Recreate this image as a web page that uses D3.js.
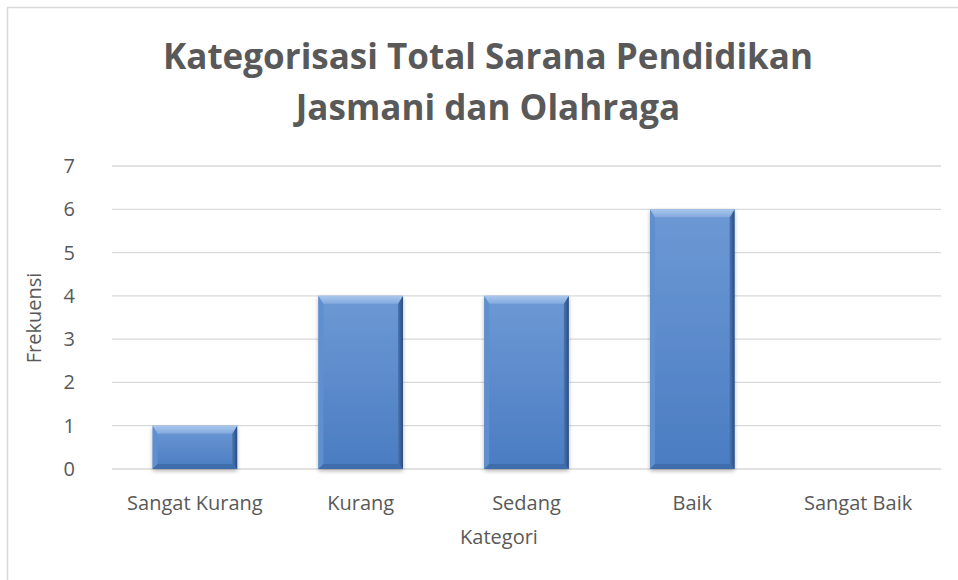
<!DOCTYPE html>
<html>
<head>
<meta charset="utf-8">
<script src="https://cdn.jsdelivr.net/npm/d3@7"></script>
<style>
  body { margin: 0; background: #fff; }
  text { font-family: "Open Sans", "DejaVu Sans", sans-serif; fill: #595959; }
</style>
</head>
<body>
<svg id="chart" width="958" height="580"></svg>
<script>
// data
var categories = ['Sangat Kurang', 'Kurang', 'Sedang', 'Baik', 'Sangat Baik'];
var frekuensi = [1, 4, 4, 6, 0];
var yTicks = [0, 1, 2, 3, 4, 5, 6, 7];
var titleLines = ['Kategorisasi Total Sarana Pendidikan', 'Jasmani dan Olahraga'];

var svg = d3.select('#chart');
var margin = {left: 112, right: 17, top: 166, bottom: 111};
var W = 958, H = 580;

// outer border of the chart area
svg.append('rect').attr('x', 7.5).attr('y', 7.5).attr('width', W + 10).attr('height', H + 10)
   .attr('fill', '#fff').attr('stroke', '#d9d9d9').attr('stroke-width', 1.5);

var x = d3.scaleBand().domain(categories).range([margin.left, W - margin.right]).paddingInner(0.49).paddingOuter(0.245);
var y = d3.scaleLinear().domain([0, 7]).range([H - margin.bottom, margin.top]);

// grid lines
svg.append('g').selectAll('line').data(yTicks).enter().append('line')
   .attr('x1', margin.left).attr('x2', W - margin.right)
   .attr('y1', function(d){ return y(d); }).attr('y2', function(d){ return y(d); })
   .attr('stroke', '#d9d9d9').attr('stroke-width', 1.3);

// y axis labels
svg.append('g').selectAll('text').data(yTicks).enter().append('text')
   .attr('x', 75).attr('y', function(d){ return y(d) + 7; })
   .attr('text-anchor', 'end').style('font-size', '20px')
   .text(function(d){ return d; });

// x axis labels
svg.append('g').selectAll('text').data(categories).enter().append('text')
   .attr('x', function(d){ return x(d) + x.bandwidth()/2; })
   .attr('y', 510).attr('text-anchor', 'middle').style('font-size', '20px')
   .text(function(d){ return d; });

// axis titles
svg.append('text').attr('x', 499).attr('y', 544).attr('text-anchor', 'middle')
   .style('font-size', '20px').text('Kategori');
svg.append('text').attr('transform', 'translate(41,318) rotate(-90)').attr('text-anchor', 'middle')
   .style('font-size', '20px').text('Frekuensi');

// title
var titleW = [644, 388];
svg.append('g').selectAll('text').data(titleLines).enter().append('text')
   .attr('x', 488).attr('y', function(d, i){ return 69 + i * 51; })
   .attr('text-anchor', 'middle').style('font-size', '35px').style('font-weight', 'bold')
   .text(function(d){ return d; })
   .each(function(d, i){
     var len = this.getComputedTextLength();
     if (Math.abs(len - titleW[i]) > 6) d3.select(this).attr('textLength', titleW[i]).attr('lengthAdjust', 'spacingAndGlyphs');
   });

// gradients for bevelled bars
var defs = svg.append('defs');
var g1 = defs.append('linearGradient').attr('id', 'barFill').attr('x1', 0).attr('y1', 0).attr('x2', 0).attr('y2', 1);
g1.append('stop').attr('offset', '0%').attr('stop-color', '#6d99d5');
g1.append('stop').attr('offset', '100%').attr('stop-color', '#4a7cc2');
var gTop = defs.append('linearGradient').attr('id', 'topBev').attr('x1', 0).attr('y1', 0).attr('x2', 0).attr('y2', 1);
gTop.append('stop').attr('offset', '0%').attr('stop-color', '#a9c7ec');
gTop.append('stop').attr('offset', '100%').attr('stop-color', '#82a9de');
var gRight = defs.append('linearGradient').attr('id', 'rightBev').attr('x1', 0).attr('y1', 0).attr('x2', 1).attr('y2', 0);
gRight.append('stop').attr('offset', '0%').attr('stop-color', '#4a76b4');
gRight.append('stop').attr('offset', '100%').attr('stop-color', '#2a4d80');
var sh = defs.append('filter').attr('id', 'shadow').attr('x', '-10%').attr('y', '-10%').attr('width', '130%').attr('height', '130%');
sh.append('feGaussianBlur').attr('in', 'SourceAlpha').attr('stdDeviation', 2);
sh.append('feOffset').attr('dx', 0).attr('dy', 2).attr('result', 'ob');
sh.append('feComponentTransfer').append('feFuncA').attr('type', 'linear').attr('slope', 0.3);
var mg = sh.append('feMerge');
mg.append('feMergeNode');
mg.append('feMergeNode').attr('in', 'SourceGraphic');

var bev = 8;
var bars = svg.append('g').selectAll('g').data(frekuensi.map(function(v, i){ return {c: categories[i], v: v}; }))
   .enter().filter(function(d){ return d.v > 0; }).append('g');

bars.each(function(d){
  var g = d3.select(this);
  var x0 = x(d.c), x1 = x0 + x.bandwidth(), y0 = y(d.v), y1 = y(0);
  var b = Math.min(bev, (y1 - y0) / 2);
  var bs = 5;
  g.append('rect').attr('x', x0).attr('y', y0).attr('width', x1 - x0).attr('height', y1 - y0)
   .attr('fill', 'url(#barFill)').attr('filter', 'url(#shadow)');
  var pts = function(a){ return a.map(function(p){ return p.join(','); }).join(' '); };
  // left bevel
  g.append('polygon').attr('points', pts([[x0,y0],[x0+bs,y0+b],[x0+bs,y1-bs],[x0,y1]])).attr('fill', '#5f8fcf');
  // right bevel
  g.append('polygon').attr('points', pts([[x1,y0],[x1,y1],[x1-bs,y1-bs],[x1-bs,y0+b]])).attr('fill', 'url(#rightBev)');
  // bottom bevel
  g.append('polygon').attr('points', pts([[x0,y1],[x1,y1],[x1-bs,y1-bs],[x0+bs,y1-bs]])).attr('fill', '#3f6cab');
  // top bevel
  g.append('polygon').attr('points', pts([[x0,y0],[x1,y0],[x1-bs,y0+b],[x0+bs,y0+b]])).attr('fill', 'url(#topBev)');
});
</script>
</body>
</html>
